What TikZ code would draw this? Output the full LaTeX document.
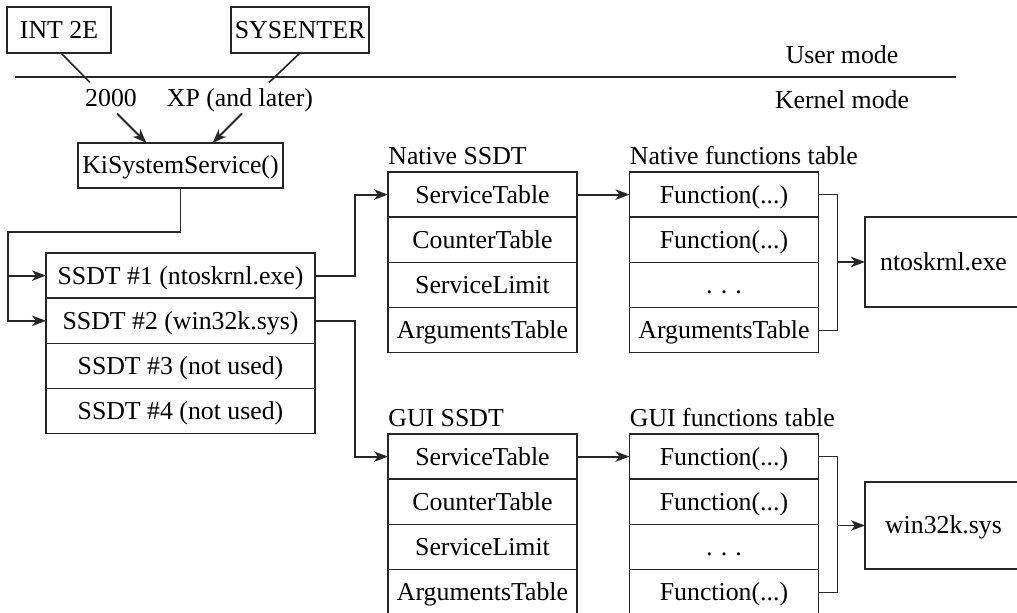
\documentclass[tikz,border=0pt]{standalone}
\usepackage{fontspec}
\setmainfont{Liberation Serif}
\usepackage{tikz}
\usetikzlibrary{arrows.meta,positioning}

\begin{document}
\begin{tikzpicture}[
    x=0.5pt, y=-0.5pt,
    font=\fontsize{12.9}{15}\selectfont,
    box/.style={draw=black!85, line width=0.7pt, outer sep=0pt, inner sep=0pt, align=center, text height=8.8pt, text depth=0.3pt},
    cell/.style={box, minimum height=22.6pt},
    ssdtcell/.style={cell, minimum width=134.5pt},
    tcell/.style={cell, minimum width=94.5pt},
    lbl/.style={inner sep=0pt, text height=8.8pt, text depth=0.3pt},
    title/.style={anchor=base west, inner sep=0pt},
    arrow/.style={-{Stealth[length=7pt,width=5.2pt,inset=2pt]}, line width=0.95pt, draw=black!85},
    link/.style={line width=0.8pt, draw=black!85},
    brace/.style={line width=0.55pt, draw=black!85}
]
\useasboundingbox (0,0) rectangle (1017,613);

% user / kernel boundary
\node[box, minimum width=52pt, minimum height=23pt] (intbox) at (59,30) {INT 2E};
\node[box, minimum width=69pt, minimum height=23pt] (sysbox) at (300,30) {SYSENTER};
\coordinate (sepL) at (15,77);
\coordinate (sepR) at (956,77);
\draw[link] (sepL) -- (sepR);
\node[lbl] (user) at (842,55) {User mode};
\node[lbl] (kernel) at (842,100) {Kernel mode};
\node[lbl] (y2000) at (111,98) {2000};
\node[lbl] (xp) at (240,98) {XP (and later)};

\node[box, minimum width=102.5pt, minimum height=22.5pt] (ki) at (180.5,165.5) {KiSystemService()};

% service descriptor tables
\node[ssdtcell] (ssdt1) at (180.5,275.6) {SSDT \#1 (ntoskrnl.exe)};
\node[ssdtcell, below=0pt of ssdt1] (ssdt2) {SSDT \#2 (win32k.sys)};
\node[ssdtcell, below=0pt of ssdt2] (ssdt3) {SSDT \#3 (not used)};
\node[ssdtcell, below=0pt of ssdt3] (ssdt4) {SSDT \#4 (not used)};

\node[tcell] (nat1) at (482.5,194.6) {ServiceTable};
\node[tcell, below=0pt of nat1] (nat2) {CounterTable};
\node[tcell, below=0pt of nat2] (nat3) {ServiceLimit};
\node[tcell, below=0pt of nat3] (nat4) {ArgumentsTable};
\node[title] at ([yshift=3.5pt]nat1.north west) {Native SSDT};

\node[tcell] (nfn1) at (724,194.6) {Function(...)};
\node[tcell, below=0pt of nfn1] (nfn2) {Function(...)};
\node[tcell, below=0pt of nfn2] (nfn3) {.\hspace{0.32em}.\hspace{0.32em}.};
\node[tcell, below=0pt of nfn3] (nfn4) {ArgumentsTable};
\node[title] at ([yshift=3.5pt]nfn1.north west) {Native functions table};

\node[tcell] (gui1) at (482.5,456.6) {ServiceTable};
\node[tcell, below=0pt of gui1] (gui2) {CounterTable};
\node[tcell, below=0pt of gui2] (gui3) {ServiceLimit};
\node[tcell, below=0pt of gui3] (gui4) {ArgumentsTable};
\node[title] at ([yshift=3.5pt]gui1.north west) {GUI SSDT};

\node[tcell] (gfn1) at (724,456.6) {Function(...)};
\node[tcell, below=0pt of gfn1] (gfn2) {Function(...)};
\node[tcell, below=0pt of gfn2] (gfn3) {.\hspace{0.32em}.\hspace{0.32em}.};
\node[tcell, below=0pt of gfn3] (gfn4) {Function(...)};
\node[title] at ([yshift=3.5pt]gfn1.north west) {GUI functions table};

\node[box, minimum width=78.5pt, minimum height=45pt] (ntos) at (943.5,262) {ntoskrnl.exe};
\node[box, minimum width=78.5pt, minimum height=43.5pt] (wink) at (943.5,525.5) {win32k.sys};

% connectors
\draw[link] ([xshift=1pt]intbox.south) -- ([xshift=-10.5pt,yshift=3pt]y2000.north);
\draw[link] (sysbox.south) -- ([xshift=14.5pt,yshift=3pt]xp.north);
\draw[arrow] ([xshift=3pt,yshift=-3pt]y2000.south) -- ([xshift=-17pt]ki.north);
\draw[arrow] ([xshift=1pt,yshift=-3pt]xp.south) -- ([xshift=16pt]ki.north);

\draw[arrow] (ki.south) -- ++(0,44) -| ([xshift=-19pt]ssdt2.west) -- (ssdt2.west);
\draw[arrow] ([xshift=-19pt]ssdt1.west) -- (ssdt1.west);
\draw[arrow] (ssdt1.east) -- ++(40,0) |- (nat1.west);
\draw[arrow] (ssdt2.east) -- ++(40,0) |- (gui1.west);
\draw[arrow] (nat1.east) -- (nfn1.west);
\draw[arrow] (gui1.east) -- (gfn1.west);

\draw[brace] (nfn1.east) -- ++(19,0) coordinate (nbr) |- (nfn4.east);
\draw[arrow] (nbr |- ntos.west) -- (ntos.west);
\draw[brace] (gfn1.east) -- ++(19,0) coordinate (gbr) |- (gfn4.east);
\draw[arrow] (gbr |- wink.west) -- (wink.west);
\end{tikzpicture}
\end{document}
